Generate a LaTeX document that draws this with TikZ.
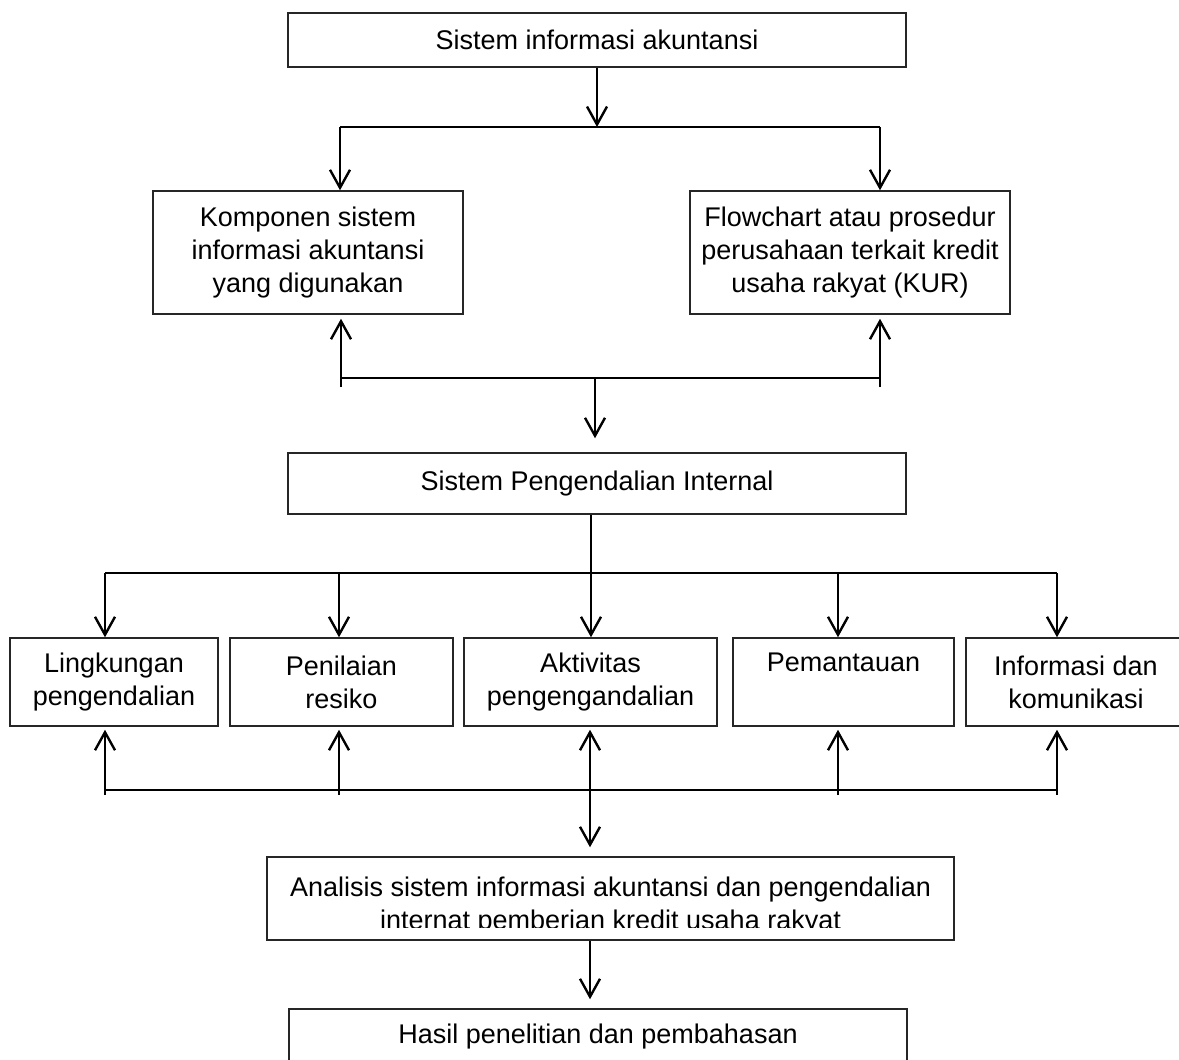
\documentclass[tikz,border=0pt]{standalone}
\usepackage{fontspec}
\setmainfont{Liberation Sans}
\usetikzlibrary{arrows.meta}

\begin{document}
\begin{tikzpicture}[x=0.5pt,y=-0.5pt,
  txt/.style={align=center,inner sep=0pt,font=\fontsize{13.5}{16.5}\selectfont},
  box/.style={txt,draw=black!85,line width=0.75pt},
  row/.style={box,minimum height=44pt},
  arr/.style={line width=1.2pt,-{Straight Barb[length=9pt,width=10pt]}},
  bar/.style={line width=1pt}]
\useasboundingbox (0,0) rectangle (1179,1060);
\node[box,minimum width=309pt,minimum height=27pt] (sia) at (597,40) {Sistem informasi akuntansi};
\node[box,minimum width=155pt,minimum height=61.5pt] (komp) at (308,252.5) {Komponen sistem\\informasi akuntansi\\yang digunakan};
\node[box,minimum width=160pt,minimum height=61.5pt] (flow) at (850,252.5) {Flowchart atau prosedur\\perusahaan terkait kredit\\usaha rakyat (KUR)};
\node[box,minimum width=309pt,minimum height=30.5pt] (spi) at (597,483.5) {Sistem Pengendalian Internal};
\node[row,minimum width=104pt] (ling) at (114,682) {Lingkungan\\pengendalian};
\node[row,minimum width=111.5pt] (nilai) at (341.5,682) {Penilaian\\resiko};
\node[row,minimum width=126.5pt] (akt) at (590.5,682) {Aktivitas\\pengengandalian};
\node[row,minimum width=110.5pt] (pant) at (843.5,682) {Pemantauan\\\phantom{g}};
\node[row,minimum width=110pt] (info) at (1076,682) {Informasi dan\\komunikasi};
\node[box,minimum width=343.5pt,minimum height=41.5pt] (ana) at (610.5,898.5) {};
\begin{scope}
\clip (ana.north west) rectangle ([yshift=6.5pt]ana.south east);
\node[txt] (anatxt) at (610.5,906) {Analisis sistem informasi akuntansi dan pengendalian\\internat pemberian kredit usaha rakyat};
\end{scope}
\node[box,minimum width=309pt,minimum height=28pt] (hasil) at (598,1037) {Hasil penelitian dan pembahasan};

\coordinate (t1) at (340,127); \coordinate (t2) at (880,127);
\draw[arr] (sia.south) -- (sia.south |- t1); \draw[bar] (t1) -- (t2);
\draw[arr] (t1) -- (t1 |- komp.north); \draw[arr] (t2) -- (t2 |- flow.north);

\coordinate (m1) at (341,387); \coordinate (m2) at (880,387); \coordinate (m) at (595,378);
\draw[arr,shorten >=2pt] (m1) -- (m1 |- komp.south); \draw[arr,shorten >=2pt] (m2) -- (m2 |- flow.south);
\draw[bar] (m1 |- m) -- (m2 |- m); \draw[arr,shorten >=7pt] (m) -- (m |- spi.north);

\coordinate (s) at (591,573); \coordinate (s1) at (105,573); \coordinate (s2) at (1057,573);
\draw[arr] (spi.south -| s) -- (s |- akt.north); \draw[bar] (s1) -- (s2);
\foreach \x/\n in {105/ling,339/nilai,838/pant,1057/info} \draw[arr] (\x,573) -- (\x,573 |- \n.north);

\coordinate (b) at (590,790); \coordinate (b1) at (105,790); \coordinate (b2) at (1057,790);
\foreach \x/\n in {105/ling,339/nilai,590/akt,838/pant,1057/info} \draw[arr,shorten >=1.5pt] (\x,795) -- (\x,795 |- \n.south);
\draw[bar] (b1) -- (b2);
\draw[arr,shorten >=4.5pt] (b) -- (b |- ana.north);
\draw[arr,shorten >=4.5pt] (ana.south -| b) -- (b |- hasil.north);
\end{tikzpicture}
\end{document}
